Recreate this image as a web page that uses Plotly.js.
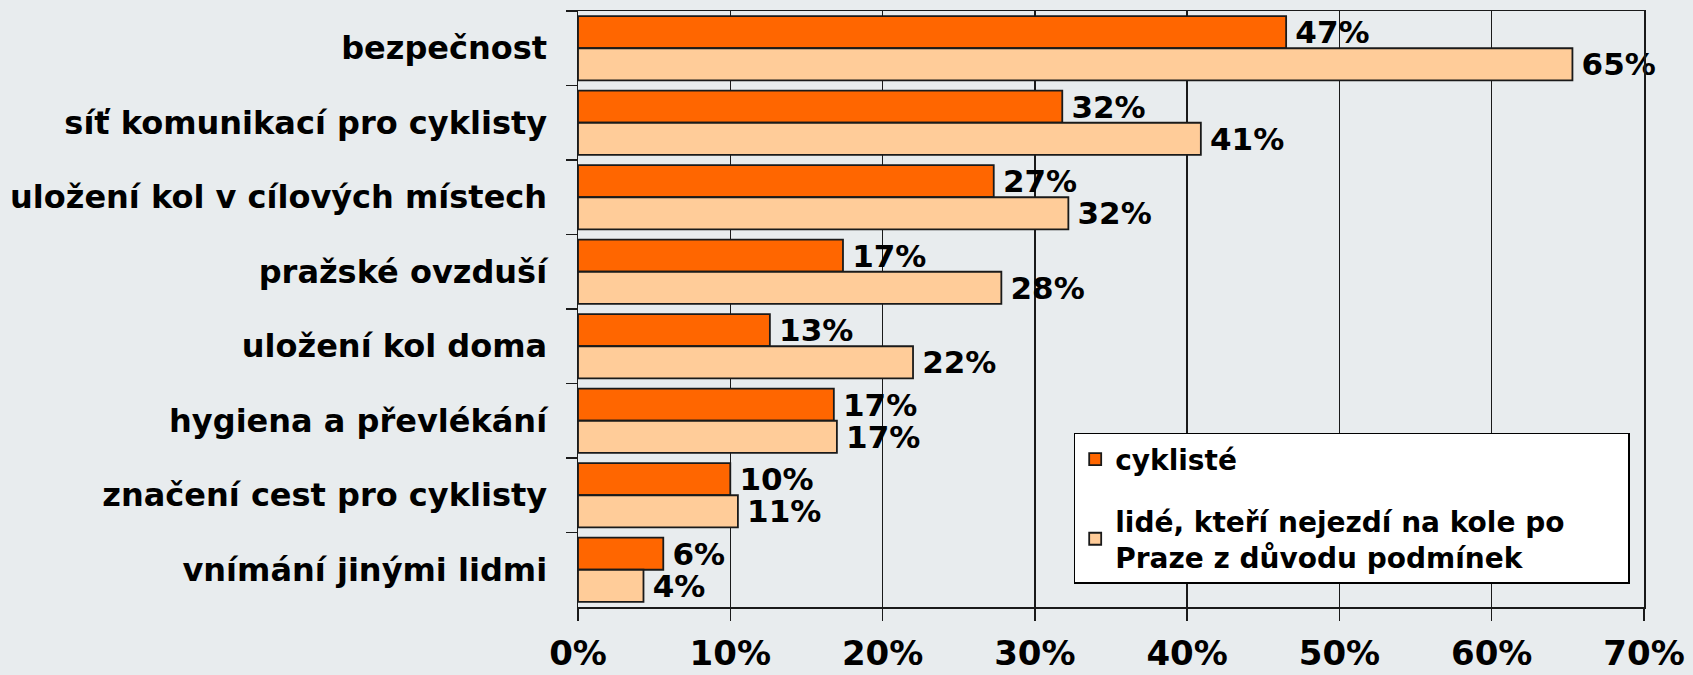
<!DOCTYPE html>
<html>
<head>
<meta charset="utf-8">
<script src="https://cdn.plot.ly/plotly-3.0.1.min.js"></script>
<style>
  html, body { margin: 0; padding: 0; background: #E8ECEE; }
  #chart { width: 1693px; height: 675px; }
</style>
</head>
<body>
<div id="chart"></div>
<script>
const categories = [
  "bezpečnost",
  "síť komunikací pro cyklisty",
  "uložení kol v cílových místech",
  "pražské ovzduší",
  "uložení kol doma",
  "hygiena a převlékání",
  "značení cest pro cyklisty",
  "vnímání jinými lidmi"
];
const seriesNames = ["cyklisté", "lidé, kteří nejezdí na kole po\u00a0\u00a0\u00a0\u00a0\u00a0\u00a0<br>Praze z důvodu podmínek"];
const cyclistsValues = [46.5, 31.8, 27.3, 17.4, 12.6, 16.8, 10.0, 5.6];
const cyclistsLabels = ["47%", "32%", "27%", "17%", "13%", "17%", "10%", "6%"];
const nonCyclistsValues = [65.3, 40.9, 32.2, 27.8, 22.0, 17.0, 10.5, 4.3];
const nonCyclistsLabels = ["65%", "41%", "32%", "28%", "22%", "17%", "11%", "4%"];
const tickValues = [0, 10, 20, 30, 40, 50, 60, 70];
const tickLabels = ["0%", "10%", "20%", "30%", "40%", "50%", "60%", "70%"];

const FONT = "DejaVu Sans, Verdana, sans-serif";
const barLine = { color: "#1a1a1a", width: 1.8 };

const traces = [
  {
    type: "bar", orientation: "h",
    name: seriesNames[0], legendgroup: "a",
    y: categories, x: cyclistsValues, text: cyclistsLabels,
    texttemplate: "\u2009%{text}", textposition: "outside", cliponaxis: false,
    constraintext: "none",
    textfont: { family: FONT, size: 31, color: "#000", weight: "bold" },
    marker: { color: "#FF6600", line: barLine },
    hoverinfo: "skip"
  },
  {
    type: "bar", orientation: "h",
    name: seriesNames[1], legendgroup: "b",
    y: categories, x: nonCyclistsValues, text: nonCyclistsLabels,
    texttemplate: "\u2009%{text}", textposition: "outside", cliponaxis: false,
    constraintext: "none",
    textfont: { family: FONT, size: 31, color: "#000", weight: "bold" },
    marker: { color: "#FFCC99", line: barLine },
    hoverinfo: "skip"
  }
];

const layout = {
  width: 1693, height: 675, autosize: false,
  margin: { l: 578, r: 49, t: 11, b: 68, pad: 0 },
  paper_bgcolor: "#E8ECEE", plot_bgcolor: "#E8ECEE",
  barmode: "group", bargap: 0.14, bargroupgap: 0,
  font: { family: FONT, color: "#000", weight: "bold" },
  showlegend: true,
  legend: {
    x: 0.465, y: 0.292, xanchor: "left", yanchor: "top",
    bgcolor: "#FFFFFF", bordercolor: "#000", borderwidth: 1.5,
    font: { family: FONT, size: 28, color: "#000", weight: "bold" },
    traceorder: "grouped", tracegroupgap: 22,
    itemwidth: 30
  },
  xaxis: {
    range: [0, 70], tickvals: tickValues, ticktext: tickLabels,
    showgrid: true, gridcolor: "#1a1a1a", gridwidth: 1.5,
    showline: true, linecolor: "#1a1a1a", linewidth: 1.5, mirror: true,
    ticks: "outside", ticklen: 12, tickcolor: "#1a1a1a", tickwidth: 1.5,
    ticklabelstandoff: 4,
    tickfont: { family: FONT, size: 34, color: "#000", weight: "bold" },
    zeroline: false, fixedrange: true
  },
  yaxis: {
    type: "category", autorange: "reversed",
    showgrid: false,
    showline: true, linecolor: "#1a1a1a", linewidth: 1.5, mirror: true,
    ticks: "outside", ticklen: 11, tickcolor: "#1a1a1a", tickwidth: 1.5,
    tickson: "boundaries", ticklabelstandoff: 23,
    tickfont: { family: FONT, size: 32, color: "#000", weight: "bold" },
    fixedrange: true
  }
};

Plotly.newPlot("chart", traces, layout, { displayModeBar: false, staticPlot: true });
</script>
</body>
</html>
